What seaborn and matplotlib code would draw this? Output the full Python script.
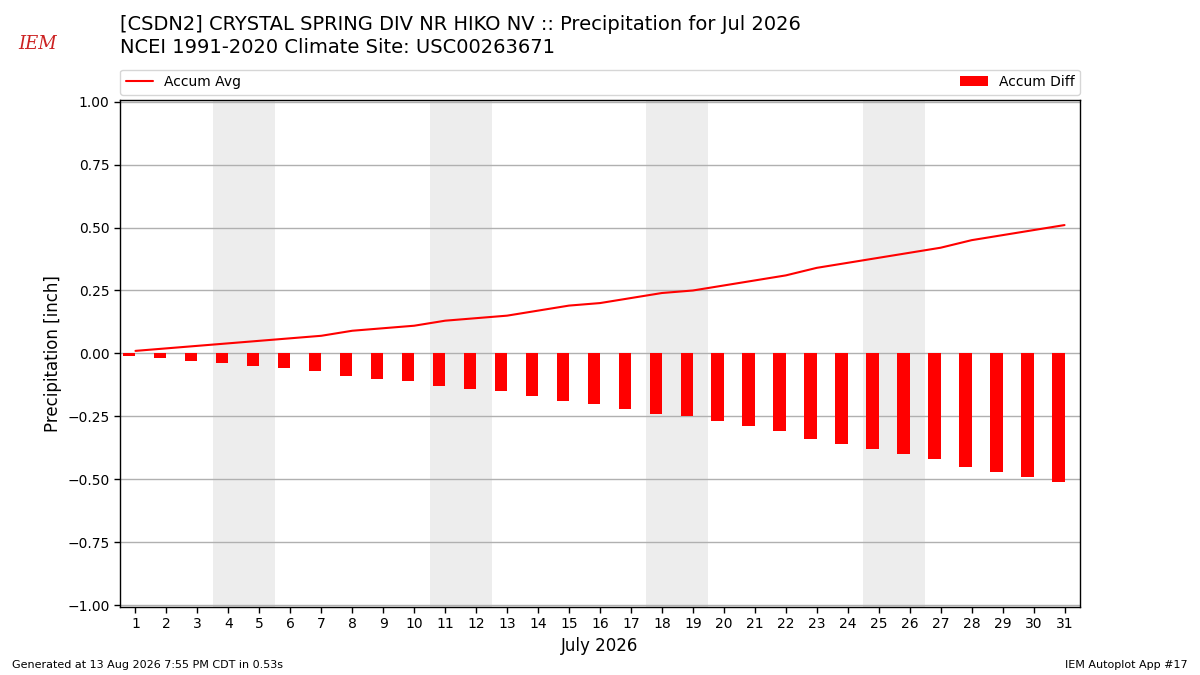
import numpy as np
import pandas as pd
import matplotlib
matplotlib.use("Agg")
import matplotlib.pyplot as plt
import seaborn as sns

# Data (July 2026)
days = list(range(1, 32))
accum_avg = [0.01, 0.02, 0.03, 0.04, 0.05, 0.06, 0.07, 0.09, 0.10, 0.11,
             0.13, 0.14, 0.15, 0.17, 0.19, 0.20, 0.22, 0.24, 0.25, 0.27,
             0.29, 0.31, 0.34, 0.36, 0.38, 0.40, 0.42, 0.45, 0.47, 0.49, 0.51]
accum_obs = [0.0] * 31
weekends = [(4, 5), (11, 12), (18, 19), (25, 26)]

df = pd.DataFrame({"day": days, "avg": accum_avg, "obs": accum_obs})
df["diff"] = df["obs"] - df["avg"]

sns.set_style("white")
plt.rcParams['font.family'] = ['DejaVu Sans']
plt.rcParams['text.color'] = 'black'
plt.rcParams['axes.labelcolor'] = 'black'
plt.rcParams['xtick.color'] = 'black'
plt.rcParams['ytick.color'] = 'black'

fig = plt.figure(figsize=(12, 6.75), dpi=100)
ax = fig.add_axes([0.1, 0.1007, 0.8, 0.7515])

for a, b in weekends:
    ax.axvspan(a - 0.5, b + 0.5, color="#ededed", zorder=0, lw=0)

ax.bar(df["day"], df["diff"], width=-0.4, align="edge", color="red",
       edgecolor="none", linewidth=0, label="Accum Diff", zorder=3)
sns.lineplot(data=df, x="day", y="avg", color="red", lw=1.5,
             label="Accum Avg", ax=ax, zorder=4)

ax.set_xlim(0.5, 31.5)
ax.set_ylim(-1.008, 1.008)
ax.set_xticks(days)
ax.set_xticklabels([str(d) for d in days], fontsize=10)
yt = np.arange(-1.0, 1.01, 0.25)
ax.set_yticks(yt)
ax.set_yticklabels([f"{v:.2f}".replace("-", "\u2212") for v in yt], fontsize=10)
ax.tick_params(axis="both", direction="out", length=4, width=1, left=True, bottom=True)
ax.yaxis.grid(True, color="#b0b0b0", lw=1, zorder=1)
ax.set_axisbelow(True)
for s in ax.spines.values():
    s.set_color("black")
    s.set_linewidth(1)

ax.set_xlabel("July 2026", fontsize=12)
ax.set_ylabel("Precipitation [inch]", fontsize=12)

handles, labels = ax.get_legend_handles_labels()
order = [labels.index("Accum Avg"), labels.index("Accum Diff")]
ax.legend([handles[i] for i in order], [labels[i] for i in order],
          loc="lower left", bbox_to_anchor=(0, 1.01, 1, 0.05), mode="expand",
          ncol=2, fontsize=10, borderaxespad=0, frameon=True)

fig.text(0.1, 0.963, "[CSDN2] CRYSTAL SPRING DIV NR HIKO NV :: Precipitation for Jul 2026",
         fontsize=14, va="center", ha="left")
fig.text(0.1, 0.929, "NCEI 1991-2020 Climate Site: USC00263671",
         fontsize=14, va="center", ha="left")

# simple stand-in for the IEM logo
fig.text(0.031, 0.935, "IEM", fontsize=13, color="#cc2222", style="italic",
         family="DejaVu Serif", ha="center", va="center")

fig.text(0.01, 0.015, "Generated at 13 Aug 2026 7:55 PM CDT in 0.53s", fontsize=8,
         ha="left", va="center")
fig.text(0.99, 0.015, "IEM Autoplot App #17", fontsize=8, ha="right", va="center")

fig.savefig("out.png", dpi=100)
